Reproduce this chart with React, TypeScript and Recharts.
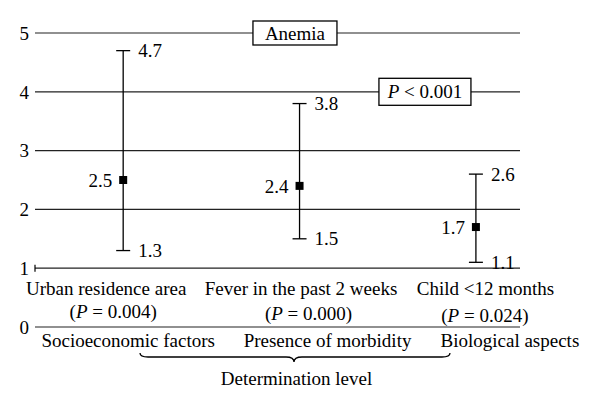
import React from "react";
import {
  ScatterChart,
  Scatter,
  ErrorBar,
  XAxis,
  YAxis,
  CartesianGrid,
  ReferenceLine,
} from "recharts";

const CATEGORIES = ["Urban residence area", "Fever in the past 2 weeks", "Child <12 months"];
const P_VALUES = ["0.004", "0.000", "0.024"];
const MEANS = [2.5, 2.4, 1.7];
const LOWER = [1.3, 1.5, 1.1];
const UPPER = [4.7, 3.8, 2.6];
const GROUPS = ["Socioeconomic factors", "Presence of morbidity", "Biological aspects"];
const Y_TICKS = [0, 1, 2, 3, 4, 5];
const TITLE = "Anemia";
const OVERALL_P = "0.001";
const AXIS_NAME = "Determination level";
const BASE_VALUE = 1;

const FONT = '"Liberation Serif", "Times New Roman", serif';
const FS = 19;

// label nudges (px) so the text sits where the original has it
const CAT_DX = [
  [-17, -10],
  [1.5, 9],
  [9.5, 9],
];
const CAT_DY = [
  [26.8, 49.8],
  [26.8, 51.8],
  [26.8, 53.5],
];
const GROUP_DX = [5, 28, 34];

const rows = CATEGORIES.map((name, i) => ({
  x: i,
  name,
  p: P_VALUES[i],
  mean: MEANS[i],
  lo: LOWER[i],
  hi: UPPER[i],
  err: [MEANS[i] - LOWER[i], UPPER[i] - MEANS[i]],
}));

const textProps = { fontFamily: FONT, fontSize: FS, fill: "#000" };

const MeanShape = (props: any) => {
  const { cx, cy, payload } = props;
  return (
    <g>
      <rect x={cx - 4} y={cy - 4} width={8} height={8} fill="#000" />
      <text {...textProps} x={cx - 11} y={cy} dy="0.35em" textAnchor="end">
        {payload.mean.toFixed(1)}
      </text>
    </g>
  );
};

const boundShape = (key: "hi" | "lo") => (props: any) => {
  const { cx, cy, payload } = props;
  return (
    <text {...textProps} x={cx + 15} y={cy} dy="0.35em" textAnchor="start">
      {payload[key].toFixed(1)}
    </text>
  );
};

const CategoryShape = (props: any) => {
  const { cx, cy, payload } = props;
  const i = payload.x;
  return (
    <g>
      <text {...textProps} x={cx + CAT_DX[i][0]} y={cy + CAT_DY[i][0]} textAnchor="middle">
        {payload.name}
      </text>
      <text {...textProps} x={cx + CAT_DX[i][1]} y={cy + CAT_DY[i][1]} textAnchor="middle">
        (<tspan fontStyle="italic">P</tspan> = {payload.p})
      </text>
    </g>
  );
};

const YTick = (props: any) => {
  const { x, y, payload } = props;
  return (
    <g>
      <text {...textProps} x={x} y={y} dy="0.355em" textAnchor="end">
        {payload.value}
      </text>
      {payload.value === BASE_VALUE && (
        <line x1={x + 6} x2={x + 6} y1={y - 3.5} y2={y + 3.5} stroke="#000" strokeWidth={1.2} />
      )}
    </g>
  );
};

const GroupTick = (props: any) => {
  const { x, y, index } = props;
  return (
    <text {...textProps} x={x + GROUP_DX[index]} y={y + 19.7} textAnchor="middle">
      {GROUPS[index]}
    </text>
  );
};

const BraceLabel = (props: any) => {
  const vb = props.viewBox || { x: 27, y: 319 };
  const x1 = vb.x + 105;
  const x2 = vb.x + 415;
  const xm = vb.x + 259;
  const y0 = vb.y + 26;
  const y1 = vb.y + 30;
  const y2 = vb.y + 35;
  const d = `M${x1},${y0} Q${x1},${y1} ${x1 + 8},${y1} L${xm - 8},${y1} Q${xm},${y1} ${xm},${y2} Q${xm},${y1} ${xm + 8},${y1} L${x2 - 8},${y1} Q${x2},${y1} ${x2},${y0}`;
  return (
    <g>
      <path d={d} fill="none" stroke="#000" strokeWidth={1.3} />
      <text {...textProps} x={vb.x + 261.5} y={vb.y + 58} textAnchor="middle">
        {AXIS_NAME}
      </text>
    </g>
  );
};

const boxLabel = (frac: number, w: number, h: number, italicP: boolean, text: string) => (props: any) => {
  const vb = props.viewBox;
  if (!vb) return null;
  const cx = vb.x + vb.width * frac;
  const cy = vb.y;
  return (
    <g>
      <rect x={cx - w / 2} y={cy - h / 2} width={w} height={h} fill="#fff" stroke="#000" strokeWidth={1.3} />
      <text {...textProps} x={cx} y={cy} dy="0.35em" textAnchor="middle">
        {italicP ? (
          <>
            <tspan fontStyle="italic">P</tspan> {"< " + text}
          </>
        ) : (
          text
        )}
      </text>
    </g>
  );
};

export default function App() {
  return (
    <ScatterChart width={584} height={394} margin={{ top: 25, right: 72, bottom: 5, left: 7 }}>
      <CartesianGrid vertical={false} stroke="#222" strokeWidth={1.2} />
      <XAxis
        type="number"
        dataKey="x"
        domain={[-0.5, 2.25]}
        ticks={[0, 1, 2]}
        height={70}
        axisLine={false}
        tickLine={false}
        tickSize={0}
        tickMargin={0}
        tick={GroupTick}
        interval={0}
        label={<BraceLabel />}
      />
      <YAxis
        type="number"
        domain={[0, 5]}
        ticks={Y_TICKS}
        width={20}
        axisLine={false}
        tickLine={false}
        tickSize={0}
        tickMargin={6}
        tick={YTick}
        interval={0}
      />
      <ReferenceLine y={5} stroke="none" label={boxLabel(0.536, 84, 24, false, TITLE)} />
      <ReferenceLine y={4} stroke="none" label={boxLabel(0.804, 92, 27, true, OVERALL_P)} />
      <Scatter data={rows} dataKey={() => BASE_VALUE} shape={CategoryShape} isAnimationActive={false} />
      <Scatter data={rows} dataKey="hi" shape={boundShape("hi")} isAnimationActive={false} />
      <Scatter data={rows} dataKey="lo" shape={boundShape("lo")} isAnimationActive={false} />
      <Scatter data={rows} dataKey="mean" shape={MeanShape} isAnimationActive={false}>
        <ErrorBar dataKey="err" direction="y" width={7} stroke="#000" strokeWidth={1.3} isAnimationActive={false} />
      </Scatter>
    </ScatterChart>
  );
}
